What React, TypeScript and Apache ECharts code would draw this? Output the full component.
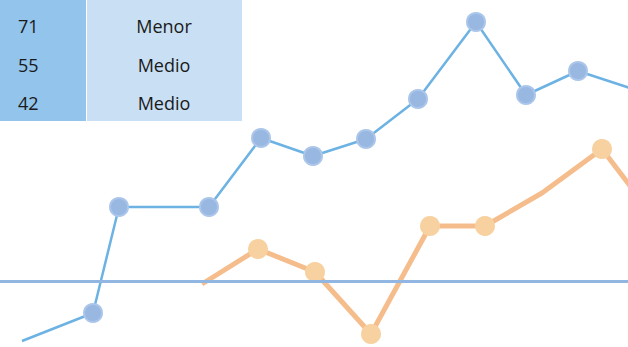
import React, { useEffect, useRef } from "react";
import * as echarts from "echarts";

// Blue series: [x, value]; null symbol flag handled via noMarker arrays
const blueX = [22, 93, 119, 209, 261, 313, 366, 418, 476, 526, 578, 630];
const blueY = [6, 34, 140, 140, 209, 191, 208, 248, 325, 252, 276, 259];
const blueMarker = [false, true, true, true, true, true, true, true, true, true, true, false];

const orangeX = [202, 258, 315, 371, 430, 485, 542, 602, 660];
const orangeY = [63, 98, 75, 13, 121, 121, 154, 198, 122];
const orangeMarker = [false, true, true, true, true, true, false, true, false];

const referenceLevel = 66;

const tableNumbers = ["71", "55", "42"];
const tableLabels = ["Menor", "Medio", "Medio"];

export default function App() {
  const ref = useRef<HTMLDivElement>(null);
  useEffect(() => {
    if (!ref.current) return;
    const chart = echarts.init(ref.current, null, { renderer: "svg" });
    const mk = (xs: number[], ys: number[], m: boolean[]) =>
      xs.map((x, i) => ({ value: [x, ys[i]], symbol: m[i] ? "circle" : "none" }));
    const rowY = [26, 65, 103];
    const graphics: any[] = [
      { type: "rect", left: 0, top: 0, shape: { x: 0, y: 0, width: 86, height: 121 }, style: { fill: "#92c4ec" }, z: 100 },
      { type: "rect", shape: { x: 87, y: 0, width: 155, height: 121 }, style: { fill: "#c8dff4" }, z: 100 },
    ];
    tableNumbers.forEach((n, i) => {
      graphics.push({
        type: "text",
        x: 18,
        y: rowY[i],
        z: 101,
        style: { text: n, fontSize: 18, fontFamily: "Open Sans", fill: "#1a1a1a", textAlign: "left", textVerticalAlign: "middle" },
      });
      graphics.push({
        type: "text",
        x: 164,
        y: rowY[i],
        z: 101,
        style: { text: tableLabels[i], fontSize: 18, fontFamily: "Open Sans", fill: "#1a1a1a", textAlign: "center", textVerticalAlign: "middle" },
      });
    });
    chart.setOption({
      animation: false,
      grid: { left: 0, right: 0, top: 0, bottom: 0 },
      xAxis: { type: "value", min: 0, max: 628, show: false },
      yAxis: { type: "value", min: 0, max: 347, show: false },
      series: [
        {
          type: "line",
          data: mk(blueX, blueY, blueMarker),
          symbolSize: 18,
          lineStyle: { color: "#6cb2e3", width: 2.5 },
          itemStyle: { color: "#98b8e2", borderColor: "#abc6ea", borderWidth: 2 },
          markLine: {
            silent: true,
            symbol: "none",
            label: { show: false },
            lineStyle: { color: "#92b6e2", width: 3, type: "solid" },
            data: [{ yAxis: referenceLevel }],
          },
          z: 3,
        },
        {
          type: "line",
          data: mk(orangeX, orangeY, orangeMarker),
          symbolSize: 20,
          lineStyle: { color: "#f5bd8c", width: 5 },
          itemStyle: { color: "#f8d1a0", borderWidth: 0 },
          z: 4,
        },
      ],
      graphic: graphics,
    });
    return () => chart.dispose();
  }, []);
  return <div ref={ref} style={{ position: "absolute", left: 0, top: 0, width: 628, height: 347 }} />;
}
